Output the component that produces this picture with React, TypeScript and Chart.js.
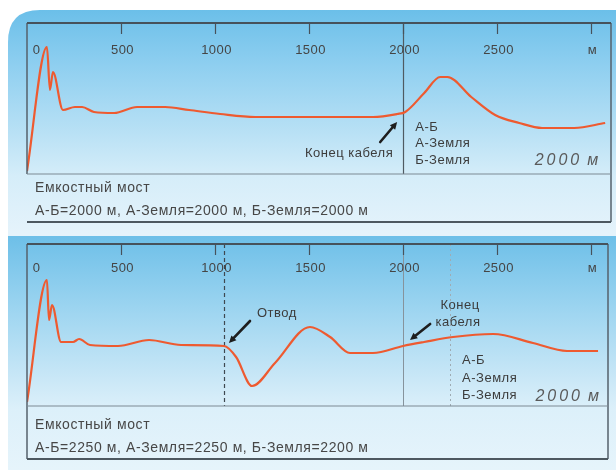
import React, { useEffect, useRef } from "react";
import { Chart, registerables } from "chart.js";

Chart.register(...registerables);

// ---------- data ----------
const tickValues = [0, 500, 1000, 1500, 2000, 2500, 3000];
const tickLabels = ["0", "500", "1000", "1500", "2000", "2500", "м"];

// upper trace (distance, m / relative amplitude)
const distance1 = [0, 106, 122, 138, 191, 255, 293, 356, 463, 585, 734, 862, 1027, 1213, 1527, 1840, 1968, 2011, 2112, 2197, 2235, 2362, 2489, 2617, 2739, 2910, 3074];
const signal1 = [3, 127, 84, 102, 64, 67, 67, 62, 61, 67, 67, 64, 60, 57, 57, 57, 60, 62, 81, 97, 97, 77, 59, 51, 46, 46, 51];

// lower trace
const distance2 = [0, 106, 117, 133, 181, 245, 277, 335, 484, 649, 819, 1048, 1112, 1197, 1319, 1505, 1612, 1718, 1840, 2000, 2112, 2266, 2479, 2691, 2872, 3037];
const signal2 = [4, 126, 86, 101, 64, 64, 67, 61, 60, 66, 61, 60, 49, 20, 43, 79, 69, 53, 53, 60, 64, 69, 72, 63, 55, 55];

const caption1 = ["Емкостный мост", "А-Б=2000 м, А-Земля=2000 м, Б-Земля=2000 м"];
const caption2 = ["Емкостный мост", "А-Б=2250 м, А-Земля=2250 м, Б-Земля=2200 м"];
const pairLabels = ["А-Б", "А-Земля", "Б-Земля"];
const rangeLabel = "2000";
const unitLabel = "м";

const cableEnd1 = 2000;
const branchAt2 = 1050;
const cableEnd2 = 2000;
const pairEnd2 = 2250;

// ---------- drawing helpers ----------
const TRACE = "#ee5a30";
const FONT = "'Liberation Sans', Arial, sans-serif";

function arrow(ctx: CanvasRenderingContext2D, x1: number, y1: number, x2: number, y2: number) {
  const ang = Math.atan2(y2 - y1, x2 - x1);
  const head = 8;
  ctx.save();
  ctx.strokeStyle = "#1e1e1e";
  ctx.fillStyle = "#1e1e1e";
  ctx.lineWidth = 2.6;
  ctx.lineCap = "round";
  ctx.beginPath();
  ctx.moveTo(x1, y1);
  ctx.lineTo(x2 - Math.cos(ang) * head * 0.7, y2 - Math.sin(ang) * head * 0.7);
  ctx.stroke();
  ctx.beginPath();
  ctx.moveTo(x2, y2);
  ctx.lineTo(x2 - head * Math.cos(ang - 0.45), y2 - head * Math.sin(ang - 0.45));
  ctx.lineTo(x2 - head * Math.cos(ang + 0.45), y2 - head * Math.sin(ang + 0.45));
  ctx.closePath();
  ctx.fill();
  ctx.restore();
}

function text(ctx: CanvasRenderingContext2D, s: string, x: number, y: number, align: CanvasTextAlign, font: string, color = "#3f3f3f", spacing = "0.5px") {
  ctx.save();
  ctx.font = font;
  ctx.fillStyle = color;
  ctx.textAlign = align;
  ctx.textBaseline = "middle";
  (ctx as any).letterSpacing = spacing;
  ctx.fillText(s, x, y);
  ctx.restore();
}

type PanelCfg = {
  id: string;
  panel: 1 | 2;
  captions: string[];
  captionOffsets: number[];
  captionBottom: number;
  labelOffset: number;
  verticals: { x: number; color: string; dash: number[]; width: number }[];
  texts: { s: string; x: number; y: number; align: CanvasTextAlign; font?: string; color?: string; spacing?: string }[];
  arrows: { x1: number; y1: number; x2: number; y2: number }[];
};

function makePlugin(cfg: PanelCfg) {
  return {
    id: cfg.id,
    beforeDraw(chart: any) {
      const { ctx, width: W, height: H } = chart;
      ctx.save();
      ctx.fillStyle = "#ffffff";
      ctx.fillRect(0, 0, W, H);
      if (cfg.panel === 1) {
        const g = ctx.createLinearGradient(0, 10, 0, H);
        g.addColorStop(0, "#6bbfe9");
        g.addColorStop(0.25, "#8fcff0");
        g.addColorStop(0.55, "#b9e1f5");
        g.addColorStop(0.74, "#d5edf9");
        g.addColorStop(1, "#e5f3fb");
        ctx.fillStyle = g;
        const r = 32;
        ctx.beginPath();
        ctx.moveTo(8, H);
        ctx.lineTo(8, 10 + r);
        ctx.quadraticCurveTo(8, 10, 8 + r, 10);
        ctx.lineTo(W, 10);
        ctx.lineTo(W, H);
        ctx.closePath();
        ctx.fill();
      } else {
        ctx.fillStyle = "#e5f3fb";
        ctx.fillRect(8, 0, W - 8, 2);
        const g = ctx.createLinearGradient(0, 2, 0, H);
        g.addColorStop(0, "#6dbfe8");
        g.addColorStop(0.3, "#9bd4f0");
        g.addColorStop(0.62, "#cbe8f7");
        g.addColorStop(0.74, "#dcf0fa");
        g.addColorStop(1, "#e6f4fb");
        ctx.fillStyle = g;
        ctx.fillRect(8, 2, W - 8, H - 2);
      }
      ctx.restore();
    },
    beforeDatasetsDraw(chart: any) {
      const { ctx, chartArea: a, scales } = chart;
      ctx.save();
      for (const v of cfg.verticals) {
        const px = Math.round(scales.x.getPixelForValue(v.x)) + 0.5;
        ctx.strokeStyle = v.color;
        ctx.lineWidth = v.width;
        ctx.setLineDash(v.dash);
        ctx.beginPath();
        ctx.moveTo(px, a.top);
        ctx.lineTo(px, a.bottom);
        ctx.stroke();
      }
      ctx.restore();
    },
    afterDatasetsDraw(chart: any) {
      const { ctx, chartArea: a, scales } = chart;
      const xs = scales.x;
      const ys = scales.y;
      ctx.save();
      // frame
      const capBottom = a.bottom + cfg.captionBottom;
      ctx.strokeStyle = "#55626c";
      ctx.lineWidth = 1.5;
      ctx.beginPath();
      if (cfg.panel === 1) {
        ctx.moveTo(a.left, a.top);
        ctx.lineTo(a.left, a.bottom);
      } else {
        ctx.moveTo(a.left, a.top);
        ctx.lineTo(a.left, capBottom);
      }
      ctx.moveTo(a.right, a.top);
      ctx.lineTo(a.right, capBottom);
      ctx.stroke();
      ctx.strokeStyle = "#7d8a93";
      ctx.lineWidth = 1.2;
      ctx.beginPath();
      ctx.moveTo(a.left, a.bottom);
      ctx.lineTo(a.right, a.bottom);
      ctx.stroke();
      ctx.strokeStyle = "#4d5860";
      ctx.lineWidth = 2;
      ctx.beginPath();
      ctx.moveTo(a.left, capBottom);
      ctx.lineTo(a.right, capBottom);
      ctx.stroke();
      // top axis
      ctx.strokeStyle = "#46525b";
      ctx.lineWidth = 2.2;
      ctx.beginPath();
      ctx.moveTo(a.left, a.top);
      ctx.lineTo(a.right, a.top);
      ctx.stroke();
      ctx.lineWidth = 1.2;
      tickValues.forEach((t, i) => {
        const px = Math.round(xs.getPixelForValue(t)) + 0.5;
        if (i > 0) {
          ctx.beginPath();
          ctx.moveTo(px, a.top);
          ctx.lineTo(px, a.top + 11);
          ctx.stroke();
        }
        const lx = i === 0 ? px + 9 : px + 1;
        text(ctx, tickLabels[i], lx, a.top + cfg.labelOffset, "center", `13px ${FONT}`, "#454545", "0.4px");
      });
      ctx.restore();
      // captions
      cfg.captions.forEach((c, i) => {
        text(ctx, c, a.left + 8, a.bottom + cfg.captionOffsets[i], "left", `14px ${FONT}`, "#474747", "0.6px");
      });
      // annotations
      for (const t of cfg.texts) {
        text(ctx, t.s, xs.getPixelForValue(t.x), ys.getPixelForValue(t.y), t.align, t.font || `13px ${FONT}`, t.color || "#3c3c3c", t.spacing || "0.5px");
      }
      for (const ar of cfg.arrows) {
        arrow(ctx, xs.getPixelForValue(ar.x1), ys.getPixelForValue(ar.y1), xs.getPixelForValue(ar.x2), ys.getPixelForValue(ar.y2));
      }
    },
  };
}

const ITALIC = `italic 16px ${FONT}`;

const cfg1: PanelCfg = {
  id: "panel1",
  panel: 1,
  captions: caption1,
  captionOffsets: [14, 37],
  captionBottom: 48,
  labelOffset: 27,
  verticals: [{ x: cableEnd1, color: "#4f5a62", dash: [], width: 1.2 }],
  texts: [
    { s: "Конец кабеля", x: 1947, y: 21, align: "right" },
    { s: pairLabels[0], x: 2064, y: 47, align: "left" },
    { s: pairLabels[1], x: 2064, y: 31, align: "left" },
    { s: pairLabels[2], x: 2064, y: 14, align: "left" },
    { s: rangeLabel, x: 2952, y: 13, align: "right", font: ITALIC, color: "#5a5a5a", spacing: "3px" },
    { s: unitLabel, x: 2979, y: 13, align: "left", font: ITALIC, color: "#5a5a5a", spacing: "1px" },
  ],
  arrows: [{ x1: 1878, y1: 32, x2: 1968, y2: 52 }],
};

const cfg2: PanelCfg = {
  id: "panel2",
  panel: 2,
  captions: caption2,
  captionOffsets: [19, 42],
  captionBottom: 53,
  labelOffset: 24,
  verticals: [
    { x: branchAt2, color: "#3e4850", dash: [4, 3], width: 1.2 },
    { x: cableEnd2, color: "#86939c", dash: [], width: 1 },
    { x: pairEnd2, color: "#9eabb3", dash: [2, 3], width: 1 },
  ],
  texts: [
    { s: "Отвод", x: 1223, y: 93, align: "left" },
    { s: "Конец", x: 2303, y: 101, align: "center" },
    { s: "кабеля", x: 2292, y: 84, align: "center" },
    { s: pairLabels[0], x: 2314, y: 46, align: "left" },
    { s: pairLabels[1], x: 2314, y: 28, align: "left" },
    { s: pairLabels[2], x: 2314, y: 11, align: "left" },
    { s: rangeLabel, x: 2957, y: 9, align: "right", font: ITALIC, color: "#5a5a5a", spacing: "3px" },
    { s: unitLabel, x: 2984, y: 9, align: "left", font: ITALIC, color: "#5a5a5a", spacing: "1px" },
  ],
  arrows: [
    { x1: 1186, y1: 85, x2: 1074, y2: 63 },
    { x1: 2144, y1: 82, x2: 2037, y2: 66 },
  ],
};

function Panel(props: { cfg: PanelCfg; top: number; height: number; xs: number[]; ys: number[]; xMax: number; yMax: number; padding: any }) {
  const ref = useRef<HTMLCanvasElement>(null);
  useEffect(() => {
    const chart = new Chart(ref.current as HTMLCanvasElement, {
      type: "line",
      data: {
        datasets: [
          {
            data: props.xs.map((x, i) => ({ x, y: props.ys[i] })),
            borderColor: TRACE,
            borderWidth: 2.2,
            pointRadius: 0,
            fill: false,
            cubicInterpolationMode: "monotone",
          } as any,
        ],
      },
      options: {
        animation: false,
        responsive: false,
        maintainAspectRatio: false,
        devicePixelRatio: 1,
        layout: { padding: props.padding },
        scales: {
          x: { type: "linear", min: 0, max: props.xMax, display: false },
          y: { type: "linear", min: 0, max: props.yMax, display: false },
        },
        plugins: { legend: { display: false }, tooltip: { enabled: false } },
      } as any,
      plugins: [makePlugin(props.cfg) as any],
    });
    return () => chart.destroy();
  }, []);
  return (
    <canvas
      ref={ref}
      width={616}
      height={props.height}
      style={{ position: "absolute", left: 0, top: props.top, width: 616, height: props.height, display: "block" }}
    />
  );
}

export default function App() {
  return (
    <div style={{ position: "fixed", left: 0, top: 0, width: 616, height: 470, background: "#fff", overflow: "hidden" }}>
      <Panel cfg={cfg1} top={0} height={234} xs={distance1} ys={signal1} xMax={3105} yMax={151} padding={{ left: 27, right: 5, top: 23, bottom: 60 }} />
      <Panel cfg={cfg2} top={234} height={236} xs={distance2} ys={signal2} xMax={3090} yMax={162} padding={{ left: 27, right: 8, top: 10, bottom: 64 }} />
    </div>
  );
}
